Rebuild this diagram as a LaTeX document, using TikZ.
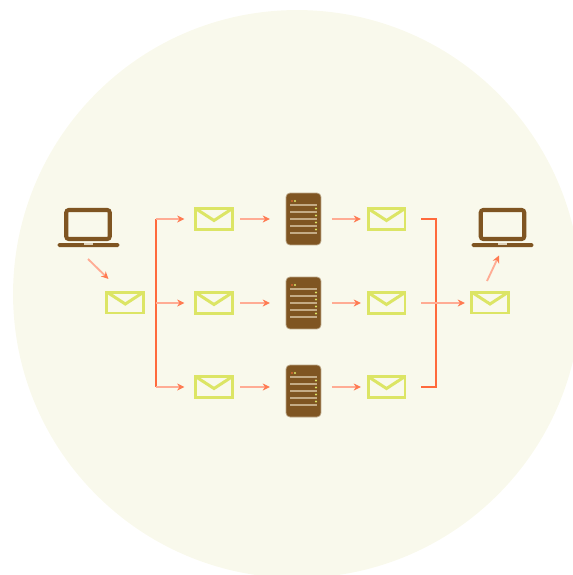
\documentclass[tikz,border=0pt]{standalone}
\usetikzlibrary{arrows.meta}
\definecolor{bgc}{HTML}{F9F9EC}
\definecolor{envc}{HTML}{DCE565}
\definecolor{brownc}{HTML}{7F5522}
\definecolor{redc}{HTML}{FF6A3C}
\definecolor{arrc}{HTML}{FFAC94}
\definecolor{linec}{HTML}{C4AB86}
\tikzset{
  x=0.02cm,y=-0.02cm,
  envelope/.style={draw=envc,line width=1.7pt,minimum width=0.74cm,minimum height=0.42cm,inner sep=0pt,outer sep=0pt,
    path picture={\draw[envc,line width=1.7pt] (path picture bounding box.north west)--([yshift=-0.24cm]path picture bounding box.north)--(path picture bounding box.north east);}},
  server/.style={fill=brownc,draw=brownc!50!bgc,line width=0.4pt,rounded corners=0.08cm,minimum width=0.7cm,minimum height=1.04cm,inner sep=0pt,outer sep=0pt},
  screen/.style={draw=brownc,line width=2.3pt,rounded corners=0.05cm,minimum width=0.87cm,minimum height=0.58cm,inner sep=0pt,outer sep=0pt},
  base/.style={fill=brownc,rounded corners=0.03cm,minimum width=1.24cm,minimum height=0.08cm,inner sep=0pt,outer sep=0pt},
  bar/.style={draw=redc,line width=1.1pt},
  arr/.style={draw=arrc,line width=1.05pt,-{Stealth[length=4.2pt,width=4pt,color=redc!75!arrc]}},
  pics/srvdetail/.style={code={
    \foreach \yy in {-14,-7,0,7,14}{\draw[linec,line width=1.1pt] (-13.5,\yy)--(13.5,\yy);}
    \foreach \yy in {-10.5,-3.5,3.5,10.5}{\fill[envc] (12.5,\yy) circle (0.022cm);}
    \fill[redc!70!brownc] (-11.5,-18) circle (0.022cm);
    \fill[envc] (-8.5,-18) circle (0.022cm);
  }}
}
\begin{document}
\begin{tikzpicture}
\useasboundingbox (0,0) rectangle (573,575);
\begin{scope}
\clip (0,0) rectangle (573,575);
\fill[bgc] (297,294) circle (5.68cm);
\end{scope}
% laptops
\node[screen] (lapA) at (88,224.5) {};
\node[base] (baseA) at (88.5,245) {};
\fill[linec!50!bgc] (84,243) rectangle (93,245);
\node[screen] (lapB) at (502.5,224.5) {};
\node[base] (baseB) at (502.5,245) {};
\fill[linec!50!bgc] (498,243) rectangle (507,245);
% envelopes
\node[envelope] (e0) at (125.3,302.5) {};
\node[envelope] (e1) at (214,219) {};
\node[envelope] (e2) at (214,303) {};
\node[envelope] (e3) at (214,387) {};
\node[envelope] (f1) at (386.5,219) {};
\node[envelope] (f2) at (386.5,303) {};
\node[envelope] (f3) at (386.5,387) {};
\node[envelope] (g0) at (490,302.5) {};
% servers
\node[server] (s1) at (303.5,219) {};
\node[server] (s2) at (303.5,303) {};
\node[server] (s3) at (303.5,391) {};
\pic at (s1) {srvdetail};
\pic at (s2) {srvdetail};
\pic at (s3) {srvdetail};
% free ends
\coordinate (a0s) at (88,259);
\coordinate (a0e) at (108.5,279);
\coordinate (a9s) at (487,281);
\coordinate (a9e) at (499,255.5);
\coordinate (lt) at (156,219);
\coordinate (lm) at (156,303);
\coordinate (lb) at (156,387);
\coordinate (rt) at (421,219);
\coordinate (rtc) at (436,219);
\coordinate (rb) at (421,387);
\coordinate (rbc) at (436,387);
\coordinate (rm) at (421,303);
% brackets
\draw[bar] (lt)--(lb);
\draw[bar] (rt)--(rtc)--(rbc)--(rb);
% arrows
\draw[arr] (a0s)--(a0e);
\draw[arr] (a9s)--(a9e);
\draw[arr] (lt)--([xshift=-0.22cm]e1.west);
\draw[arr] (lm)--([xshift=-0.22cm]e2.west);
\draw[arr] (lb)--([xshift=-0.22cm]e3.west);
\draw[arr] ([xshift=0.16cm]e1.east)--([xshift=-0.32cm]s1.west|-e1);
\draw[arr] ([xshift=0.16cm]e2.east)--([xshift=-0.32cm]s2.west|-e2);
\draw[arr] ([xshift=0.16cm]e3.east)--([xshift=-0.32cm]s3.west|-e3);
\draw[arr] ([xshift=0.22cm]s1.east)--([xshift=-0.14cm]f1.west);
\draw[arr] ([xshift=0.22cm]s2.east)--([xshift=-0.14cm]f2.west);
\draw[arr] ([xshift=0.22cm]s3.east|-f3)--([xshift=-0.14cm]f3.west);
\draw[arr] (rm)--([xshift=-0.13cm]g0.west|-rm);
\end{tikzpicture}
\end{document}
